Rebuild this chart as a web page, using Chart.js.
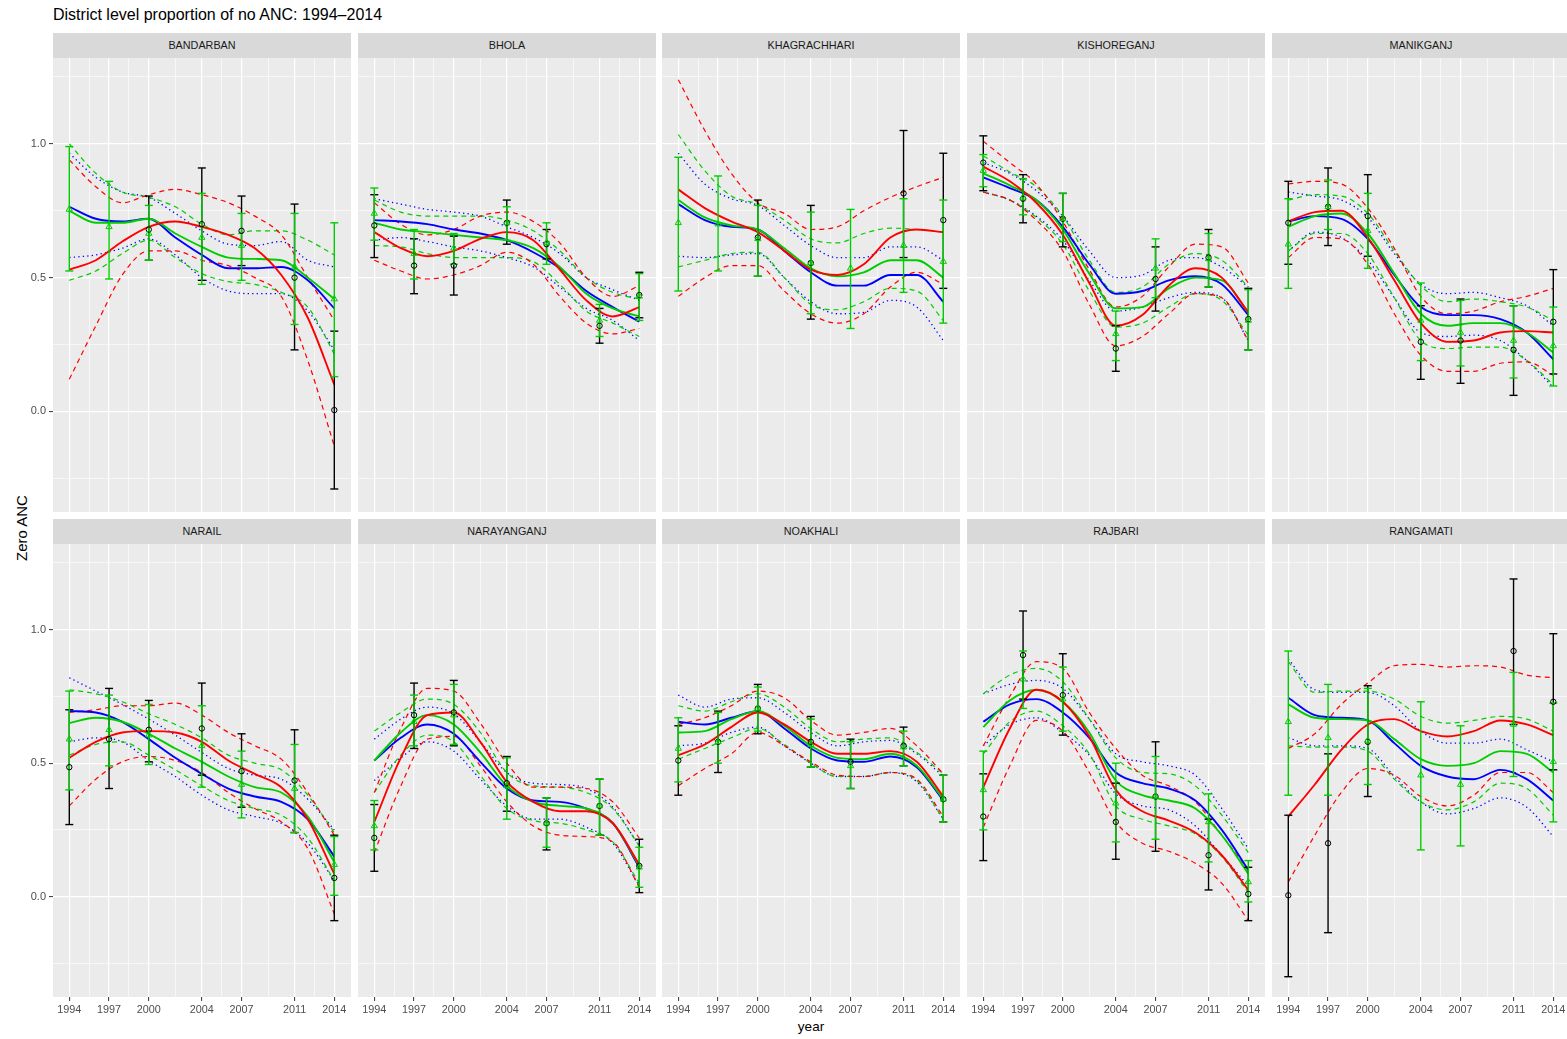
<!DOCTYPE html>
<html>
<head>
<meta charset="utf-8">
<script src="https://cdn.jsdelivr.net/npm/chart.js@4.4.0/dist/chart.umd.min.js"></script>
<style>
  body { margin: 0; background: #fff; width: 1567px; height: 1039px; overflow: hidden; position: relative;
         font-family: "Liberation Sans", Arial, sans-serif; }
  .title { position: absolute; left: 53px; top: 7px; font-size: 16px; line-height: 1; color: #000; white-space: nowrap; }
  .strip { position: absolute; height: 25px; line-height: 25px; background: #D9D9D9; color: #1A1A1A;
           font-size: 10.8px; text-align: center; }
  .xlab { position: absolute; left: 811px; top: 1020px; font-size: 13.5px; line-height: 1; transform: translateX(-50%); }
  .ylab { position: absolute; left: 21px; top: 527.5px; font-size: 15px; line-height: 1; white-space: nowrap;
          transform: translate(-50%, -50%) rotate(-90deg); }
  canvas { position: absolute; }
</style>
</head>
<body>
<div class="title">District level proportion of no ANC: 1994–2014</div>
<div class="xlab">year</div>
<div class="ylab">Zero ANC</div>
<script>
// facets, in reading order
const districts = ['BANDARBAN', 'BHOLA', 'KHAGRACHHARI', 'KISHOREGANJ', 'MANIKGANJ',
                   'NARAIL', 'NARAYANGANJ', 'NOAKHALI', 'RAJBARI', 'RANGAMATI'];

// years where the fitted curves were read, and survey years of the observed points
const fitYears = [1994, 1996, 1998, 2000, 2002, 2004, 2006, 2008, 2010, 2012, 2014];
const surveyYears = [1994, 1997, 2000, 2004, 2007, 2011, 2014];

// axis breaks
const yearBreaks = [1994, 1997, 2000, 2004, 2007, 2011, 2014];
const yearMinor = [1995.5, 1998.5, 2002, 2005.5, 2009, 2012.5];
const valueBreaks = [0, 0.5, 1];
const valueMinor = [-0.25, 0.25, 0.75, 1.25];

// red model: fit and dashed band
const redFit = [
  [0.53, 0.565, 0.635, 0.69, 0.71, 0.69, 0.66, 0.61, 0.51, 0.35, 0.10],
  [0.67, 0.61, 0.58, 0.60, 0.645, 0.67, 0.64, 0.53, 0.415, 0.355, 0.39],
  [0.83, 0.76, 0.71, 0.67, 0.60, 0.53, 0.51, 0.55, 0.65, 0.68, 0.67],
  [0.915, 0.86, 0.78, 0.66, 0.48, 0.32, 0.36, 0.47, 0.535, 0.50, 0.37],
  [0.71, 0.745, 0.75, 0.65, 0.49, 0.33, 0.26, 0.265, 0.295, 0.30, 0.295],
  [0.52, 0.58, 0.615, 0.62, 0.615, 0.58, 0.51, 0.46, 0.41, 0.29, 0.085],
  [0.28, 0.52, 0.68, 0.69, 0.58, 0.43, 0.355, 0.32, 0.32, 0.275, 0.12],
  [0.53, 0.57, 0.635, 0.69, 0.645, 0.58, 0.535, 0.535, 0.545, 0.505, 0.375],
  [0.41, 0.63, 0.775, 0.73, 0.60, 0.40, 0.32, 0.285, 0.24, 0.155, 0.025],
  [0.30, 0.42, 0.55, 0.645, 0.665, 0.62, 0.60, 0.62, 0.66, 0.645, 0.605]
];
const redUpper = [
  [0.94, 0.84, 0.78, 0.81, 0.83, 0.81, 0.78, 0.73, 0.66, 0.50, 0.34],
  [0.78, 0.70, 0.66, 0.68, 0.73, 0.745, 0.71, 0.63, 0.50, 0.43, 0.47],
  [1.24, 1.05, 0.89, 0.78, 0.74, 0.68, 0.69, 0.75, 0.80, 0.84, 0.875],
  [1.01, 0.93, 0.85, 0.71, 0.53, 0.39, 0.43, 0.54, 0.625, 0.615, 0.48],
  [0.85, 0.86, 0.85, 0.76, 0.61, 0.43, 0.365, 0.375, 0.41, 0.43, 0.46],
  [0.69, 0.70, 0.715, 0.715, 0.725, 0.68, 0.615, 0.565, 0.515, 0.39, 0.23],
  [0.39, 0.63, 0.78, 0.77, 0.65, 0.50, 0.41, 0.41, 0.405, 0.355, 0.22],
  [0.645, 0.67, 0.715, 0.77, 0.745, 0.66, 0.605, 0.615, 0.63, 0.565, 0.46],
  [0.565, 0.75, 0.88, 0.855, 0.69, 0.555, 0.455, 0.415, 0.355, 0.23, 0.10],
  [0.555, 0.61, 0.72, 0.80, 0.865, 0.87, 0.86, 0.865, 0.86, 0.83, 0.82]
];
const redLower = [
  [0.12, 0.32, 0.51, 0.60, 0.60, 0.565, 0.545, 0.50, 0.43, 0.19, -0.13],
  [0.565, 0.525, 0.495, 0.51, 0.545, 0.595, 0.55, 0.43, 0.33, 0.29, 0.31],
  [0.43, 0.50, 0.545, 0.545, 0.45, 0.365, 0.33, 0.365, 0.465, 0.52, 0.475],
  [0.82, 0.79, 0.715, 0.60, 0.40, 0.245, 0.28, 0.365, 0.44, 0.425, 0.265],
  [0.575, 0.65, 0.645, 0.55, 0.365, 0.21, 0.15, 0.15, 0.18, 0.185, 0.135],
  [0.34, 0.44, 0.505, 0.525, 0.51, 0.465, 0.39, 0.33, 0.28, 0.18, -0.065],
  [0.165, 0.415, 0.59, 0.60, 0.49, 0.355, 0.265, 0.23, 0.225, 0.205, 0.035],
  [0.415, 0.48, 0.535, 0.615, 0.565, 0.505, 0.455, 0.45, 0.465, 0.44, 0.30],
  [0.26, 0.49, 0.66, 0.62, 0.465, 0.28, 0.20, 0.17, 0.125, 0.05, -0.09],
  [0.055, 0.23, 0.39, 0.48, 0.455, 0.375, 0.34, 0.38, 0.465, 0.465, 0.39]
];

// green model
const greenFit = [
  [0.75, 0.705, 0.705, 0.72, 0.665, 0.615, 0.575, 0.57, 0.565, 0.50, 0.42],
  [0.705, 0.68, 0.67, 0.66, 0.65, 0.64, 0.61, 0.54, 0.44, 0.385, 0.355],
  [0.79, 0.725, 0.695, 0.68, 0.61, 0.535, 0.505, 0.52, 0.565, 0.565, 0.50],
  [0.89, 0.845, 0.79, 0.68, 0.515, 0.385, 0.39, 0.46, 0.50, 0.49, 0.37],
  [0.69, 0.73, 0.74, 0.665, 0.515, 0.365, 0.32, 0.33, 0.33, 0.295, 0.22],
  [0.65, 0.67, 0.655, 0.61, 0.555, 0.505, 0.45, 0.41, 0.39, 0.30, 0.13],
  [0.51, 0.615, 0.68, 0.645, 0.54, 0.415, 0.355, 0.34, 0.33, 0.275, 0.115],
  [0.615, 0.62, 0.665, 0.695, 0.64, 0.565, 0.52, 0.515, 0.535, 0.49, 0.365],
  [0.635, 0.735, 0.775, 0.73, 0.615, 0.435, 0.38, 0.36, 0.33, 0.23, 0.085],
  [0.72, 0.67, 0.665, 0.66, 0.59, 0.515, 0.49, 0.50, 0.545, 0.535, 0.465]
];
const greenUpper = [
  [1.0, 0.89, 0.82, 0.80, 0.765, 0.70, 0.66, 0.675, 0.675, 0.64, 0.585],
  [0.79, 0.745, 0.73, 0.73, 0.73, 0.715, 0.675, 0.60, 0.50, 0.445, 0.42],
  [1.035, 0.90, 0.805, 0.775, 0.715, 0.645, 0.63, 0.665, 0.685, 0.68, 0.67],
  [0.955, 0.895, 0.84, 0.73, 0.565, 0.445, 0.465, 0.55, 0.59, 0.565, 0.465],
  [0.79, 0.81, 0.805, 0.74, 0.60, 0.47, 0.41, 0.42, 0.41, 0.39, 0.34],
  [0.775, 0.76, 0.73, 0.685, 0.645, 0.595, 0.53, 0.50, 0.475, 0.38, 0.24],
  [0.62, 0.69, 0.74, 0.72, 0.615, 0.465, 0.415, 0.41, 0.39, 0.33, 0.19],
  [0.715, 0.695, 0.73, 0.76, 0.71, 0.63, 0.58, 0.59, 0.595, 0.54, 0.46],
  [0.76, 0.83, 0.855, 0.805, 0.665, 0.52, 0.465, 0.46, 0.415, 0.305, 0.165],
  [0.88, 0.765, 0.77, 0.77, 0.74, 0.675, 0.65, 0.66, 0.675, 0.665, 0.62]
];
const greenLower = [
  [0.49, 0.525, 0.59, 0.64, 0.575, 0.515, 0.485, 0.475, 0.445, 0.39, 0.215],
  [0.62, 0.615, 0.59, 0.575, 0.575, 0.575, 0.56, 0.475, 0.375, 0.33, 0.28],
  [0.54, 0.565, 0.59, 0.595, 0.50, 0.40, 0.38, 0.41, 0.46, 0.45, 0.34],
  [0.82, 0.79, 0.725, 0.625, 0.45, 0.315, 0.33, 0.39, 0.44, 0.415, 0.285],
  [0.60, 0.665, 0.665, 0.59, 0.425, 0.265, 0.235, 0.24, 0.24, 0.19, 0.10],
  [0.53, 0.57, 0.58, 0.53, 0.475, 0.415, 0.36, 0.33, 0.305, 0.22, 0.06],
  [0.39, 0.53, 0.605, 0.58, 0.455, 0.33, 0.285, 0.275, 0.25, 0.205, 0.05],
  [0.515, 0.555, 0.595, 0.63, 0.57, 0.50, 0.45, 0.45, 0.465, 0.435, 0.29],
  [0.535, 0.655, 0.695, 0.64, 0.535, 0.34, 0.29, 0.265, 0.235, 0.15, 0.015],
  [0.565, 0.56, 0.56, 0.545, 0.44, 0.355, 0.325, 0.355, 0.425, 0.405, 0.305]
];

// blue model: fit and dotted band
const blueFit = [
  [0.765, 0.72, 0.71, 0.72, 0.65, 0.585, 0.535, 0.535, 0.54, 0.49, 0.385],
  [0.715, 0.71, 0.70, 0.68, 0.665, 0.64, 0.595, 0.535, 0.45, 0.39, 0.335],
  [0.775, 0.715, 0.69, 0.68, 0.60, 0.52, 0.47, 0.47, 0.51, 0.51, 0.41],
  [0.875, 0.835, 0.79, 0.69, 0.55, 0.44, 0.45, 0.49, 0.505, 0.475, 0.36],
  [0.71, 0.73, 0.72, 0.645, 0.51, 0.39, 0.36, 0.36, 0.345, 0.295, 0.195],
  [0.695, 0.69, 0.655, 0.59, 0.52, 0.46, 0.405, 0.375, 0.355, 0.29, 0.15],
  [0.51, 0.595, 0.645, 0.61, 0.505, 0.405, 0.36, 0.355, 0.33, 0.275, 0.11],
  [0.655, 0.645, 0.67, 0.695, 0.63, 0.555, 0.51, 0.505, 0.525, 0.485, 0.36],
  [0.655, 0.72, 0.74, 0.69, 0.595, 0.465, 0.425, 0.405, 0.36, 0.25, 0.10],
  [0.745, 0.68, 0.67, 0.66, 0.575, 0.49, 0.45, 0.44, 0.475, 0.44, 0.36]
];
const blueUpper = [
  [0.965, 0.875, 0.82, 0.80, 0.74, 0.675, 0.625, 0.62, 0.635, 0.565, 0.54],
  [0.795, 0.775, 0.755, 0.745, 0.73, 0.69, 0.65, 0.59, 0.50, 0.455, 0.415],
  [0.965, 0.85, 0.795, 0.77, 0.695, 0.62, 0.575, 0.575, 0.615, 0.615, 0.565],
  [0.93, 0.89, 0.825, 0.73, 0.60, 0.50, 0.51, 0.565, 0.575, 0.54, 0.465],
  [0.82, 0.805, 0.79, 0.725, 0.59, 0.475, 0.44, 0.445, 0.425, 0.395, 0.32],
  [0.82, 0.77, 0.72, 0.665, 0.605, 0.54, 0.48, 0.455, 0.44, 0.365, 0.25],
  [0.59, 0.665, 0.71, 0.685, 0.58, 0.465, 0.425, 0.42, 0.405, 0.335, 0.19],
  [0.755, 0.71, 0.74, 0.745, 0.69, 0.615, 0.565, 0.58, 0.585, 0.535, 0.45],
  [0.76, 0.795, 0.81, 0.78, 0.665, 0.535, 0.505, 0.49, 0.455, 0.33, 0.18],
  [0.89, 0.775, 0.765, 0.765, 0.715, 0.62, 0.575, 0.575, 0.59, 0.55, 0.505]
];
const blueLower = [
  [0.575, 0.585, 0.61, 0.645, 0.585, 0.50, 0.45, 0.44, 0.44, 0.375, 0.23],
  [0.64, 0.65, 0.635, 0.615, 0.60, 0.575, 0.54, 0.465, 0.385, 0.34, 0.265],
  [0.58, 0.575, 0.585, 0.59, 0.50, 0.41, 0.365, 0.37, 0.415, 0.39, 0.265],
  [0.82, 0.79, 0.73, 0.64, 0.49, 0.375, 0.39, 0.425, 0.445, 0.425, 0.265],
  [0.60, 0.67, 0.65, 0.565, 0.425, 0.295, 0.28, 0.285, 0.265, 0.19, 0.09],
  [0.58, 0.595, 0.58, 0.51, 0.45, 0.38, 0.325, 0.30, 0.275, 0.20, 0.06],
  [0.435, 0.52, 0.58, 0.545, 0.44, 0.34, 0.29, 0.29, 0.26, 0.20, 0.04],
  [0.565, 0.575, 0.615, 0.635, 0.565, 0.50, 0.45, 0.45, 0.465, 0.43, 0.29],
  [0.565, 0.645, 0.67, 0.615, 0.53, 0.385, 0.34, 0.325, 0.265, 0.155, 0.04],
  [0.595, 0.565, 0.565, 0.555, 0.45, 0.355, 0.31, 0.33, 0.37, 0.335, 0.225]
];

// observed points (black circles) with their intervals; null = no survey estimate
const blackObs = [
  [null, null, 0.68, 0.70, 0.675, 0.50, 0.005],
  [0.695, 0.545, 0.545, 0.705, 0.625, 0.32, 0.435],
  [null, null, 0.65, 0.555, null, 0.815, 0.715],
  [0.93, 0.795, 0.72, 0.235, 0.495, 0.575, 0.345],
  [0.705, 0.765, 0.73, 0.26, 0.265, 0.23, 0.335],
  [0.485, 0.59, 0.625, 0.63, 0.47, 0.435, 0.07],
  [0.22, 0.68, 0.69, 0.425, 0.275, 0.34, 0.115],
  [0.51, 0.58, 0.705, 0.58, 0.505, 0.565, 0.365],
  [0.30, 0.905, 0.755, 0.28, 0.375, 0.155, 0.01],
  [0.005, 0.20, 0.58, null, null, 0.92, 0.73]
];
const blackLow = [
  [null, null, 0.565, 0.49, 0.545, 0.23, -0.29],
  [0.575, 0.44, 0.435, 0.625, 0.57, 0.255, 0.35],
  [null, null, 0.505, 0.345, null, 0.575, 0.46],
  [0.825, 0.705, 0.615, 0.15, 0.375, 0.465, 0.23],
  [0.55, 0.62, 0.58, 0.12, 0.105, 0.06, 0.14],
  [0.27, 0.405, 0.505, 0.455, 0.335, 0.24, -0.09],
  [0.095, 0.555, 0.565, 0.32, 0.175, 0.23, 0.015],
  [0.38, 0.465, 0.61, 0.485, 0.405, 0.49, 0.28],
  [0.135, 0.74, 0.605, 0.14, 0.17, 0.025, -0.09],
  [-0.30, -0.135, 0.375, null, null, 0.645, 0.475]
];
const blackHigh = [
  [null, null, 0.805, 0.91, 0.805, 0.775, 0.30],
  [0.81, 0.645, 0.655, 0.79, 0.68, 0.385, 0.52],
  [null, null, 0.79, 0.77, null, 1.05, 0.965],
  [1.03, 0.885, 0.815, 0.32, 0.615, 0.68, 0.46],
  [0.86, 0.91, 0.885, 0.395, 0.42, 0.395, 0.53],
  [0.70, 0.78, 0.735, 0.80, 0.61, 0.625, 0.23],
  [0.345, 0.80, 0.81, 0.525, 0.37, 0.44, 0.215],
  [0.64, 0.695, 0.795, 0.675, 0.59, 0.635, 0.455],
  [0.46, 1.07, 0.91, 0.425, 0.58, 0.29, 0.11],
  [0.305, 0.535, 0.79, null, null, 1.19, 0.985]
];

// observed points (green triangles) with their intervals
const greenObs = [
  [0.755, 0.69, 0.665, 0.65, 0.62, 0.54, 0.42],
  [0.74, 0.59, 0.61, 0.705, 0.63, 0.34, 0.43],
  [0.705, 0.70, 0.645, 0.555, 0.535, 0.62, 0.56],
  [0.90, 0.80, 0.72, 0.29, 0.535, 0.57, 0.34],
  [0.625, 0.765, 0.675, 0.34, 0.295, 0.265, 0.245],
  [0.59, 0.625, 0.605, 0.565, 0.42, 0.405, 0.12],
  [0.265, 0.655, 0.68, 0.415, 0.275, 0.34, 0.11],
  [0.555, 0.58, 0.705, 0.57, 0.49, 0.56, 0.365],
  [0.40, 0.815, 0.74, 0.35, 0.375, 0.28, 0.055],
  [0.655, 0.595, 0.585, 0.455, 0.42, 0.645, 0.505]
];
const greenLow = [
  [0.525, 0.495, 0.565, 0.475, 0.49, 0.325, 0.13],
  [0.64, 0.495, 0.55, 0.64, 0.55, 0.28, 0.34],
  [0.45, 0.525, 0.505, 0.365, 0.31, 0.445, 0.33],
  [0.84, 0.735, 0.635, 0.19, 0.425, 0.465, 0.23],
  [0.46, 0.68, 0.535, 0.19, 0.17, 0.125, 0.095],
  [0.40, 0.49, 0.495, 0.41, 0.295, 0.24, 0.005],
  [0.175, 0.565, 0.57, 0.29, 0.185, 0.23, 0.035],
  [0.43, 0.50, 0.62, 0.485, 0.405, 0.49, 0.28],
  [0.25, 0.705, 0.62, 0.205, 0.215, 0.13, -0.02],
  [0.38, 0.38, 0.42, 0.175, 0.19, 0.45, 0.28]
];
const greenHigh = [
  [0.99, 0.86, 0.77, 0.815, 0.74, 0.74, 0.705],
  [0.835, 0.68, 0.665, 0.765, 0.705, 0.40, 0.515],
  [0.95, 0.88, 0.77, 0.745, 0.755, 0.795, 0.79],
  [0.96, 0.87, 0.815, 0.375, 0.645, 0.665, 0.455],
  [0.795, 0.865, 0.815, 0.48, 0.415, 0.395, 0.39],
  [0.77, 0.755, 0.72, 0.715, 0.545, 0.57, 0.225],
  [0.36, 0.755, 0.795, 0.52, 0.37, 0.44, 0.185],
  [0.67, 0.69, 0.785, 0.665, 0.58, 0.62, 0.455],
  [0.545, 0.92, 0.86, 0.50, 0.525, 0.385, 0.135],
  [0.92, 0.795, 0.78, 0.73, 0.64, 0.84, 0.725]
];

// ---- layout ----
const RED = '#FF0000', GREEN = '#00CD00', BLUE = '#0000FF';
const X_MIN = 1992.77, X_MAX = 2015.26, Y_MIN = -0.376, Y_MAX = 1.321;
const PANEL_W = 298;
const panelLeft = [53, 358, 662, 967, 1272];
const panelTop = [58, 544];
const panelH = [454, 453];
const stripTop = [33, 519];
const Y_AXIS_W = 53, X_AXIS_H = 25;

Chart.defaults.font.family = '"Liberation Sans", Arial, sans-serif';

// grey panel background, drawn under the grid
const panelBg = {
  id: 'panelBg',
  beforeDraw(chart) {
    const { ctx, chartArea: a } = chart;
    ctx.save();
    ctx.fillStyle = '#EBEBEB';
    ctx.fillRect(a.left, a.top, a.right - a.left, a.bottom - a.top);
    ctx.restore();
  }
};

function curve(values, color, width, dash) {
  return {
    data: fitYears.map((x, i) => ({ x, y: values[i] })),
    borderColor: color, borderWidth: width, borderDash: dash || [],
    pointRadius: 0, cubicInterpolationMode: 'monotone', fill: false
  };
}

// vertical error bars with caps, one segment per survey year, split by nulls
function errorBars(lo, hi, color) {
  const data = [];
  surveyYears.forEach((x, i) => {
    if (lo[i] == null) return;
    data.push({ x, y: lo[i] }, { x, y: hi[i] }, { x, y: null });
  });
  return {
    data, borderColor: color, borderWidth: 1.4, spanGaps: false,
    pointStyle: 'line', pointRadius: 4, pointBorderWidth: 1.4,
    pointBorderColor: color, pointBackgroundColor: color
  };
}

function points(obs, color, style, radius) {
  return {
    data: surveyYears.map((x, i) => ({ x, y: obs[i] })).filter(p => p.y != null),
    showLine: false, pointStyle: style, pointRadius: radius,
    pointBorderColor: color, pointBackgroundColor: 'rgba(0,0,0,0)', pointBorderWidth: 1
  };
}

const isMajorX = v => yearBreaks.includes(v);
const isMajorY = v => valueBreaks.includes(v);

districts.forEach((name, i) => {
  const row = Math.floor(i / 5), col = i % 5;
  const showY = col === 0, showX = row === 1;

  const strip = document.createElement('div');
  strip.className = 'strip';
  strip.textContent = name;
  strip.style.left = panelLeft[col] + 'px';
  strip.style.top = stripTop[row] + 'px';
  strip.style.width = PANEL_W + 'px';
  document.body.appendChild(strip);

  const canvas = document.createElement('canvas');
  const cw = PANEL_W + (showY ? Y_AXIS_W : 0);
  const ch = panelH[row] + (showX ? X_AXIS_H : 0);
  canvas.width = cw; canvas.height = ch;
  canvas.style.width = cw + 'px'; canvas.style.height = ch + 'px';
  canvas.style.left = (panelLeft[col] - (showY ? Y_AXIS_W : 0)) + 'px';
  canvas.style.top = panelTop[row] + 'px';
  document.body.appendChild(canvas);

  new Chart(canvas, {
    type: 'line',
    data: {
      datasets: [
        points(greenObs[i], GREEN, 'triangle', 3.6),
        points(blackObs[i], '#000000', 'circle', 2.7),
        errorBars(greenLow[i], greenHigh[i], GREEN),
        errorBars(blackLow[i], blackHigh[i], '#000000'),
        curve(redFit[i], RED, 1.9),
        curve(greenFit[i], GREEN, 1.9),
        curve(blueFit[i], BLUE, 1.9),
        curve(redUpper[i], RED, 1.2, [5, 4]),
        curve(redLower[i], RED, 1.2, [5, 4]),
        curve(greenUpper[i], GREEN, 1.2, [5, 4]),
        curve(greenLower[i], GREEN, 1.2, [5, 4]),
        curve(blueUpper[i], BLUE, 1.3, [1.3, 3.2]),
        curve(blueLower[i], BLUE, 1.3, [1.3, 3.2])
      ]
    },
    options: {
      responsive: false,
      animation: false,
      devicePixelRatio: 1,
      events: [],
      layout: { padding: 0, autoPadding: false },
      plugins: { legend: { display: false }, tooltip: { enabled: false } },
      scales: {
        x: {
          type: 'linear', min: X_MIN, max: X_MAX,
          afterBuildTicks: s => { s.ticks = [...yearBreaks, ...yearMinor].sort((a, b) => a - b).map(v => ({ value: v })); },
          afterFit: s => {
            s.height = showX ? X_AXIS_H : 0;
            s.paddingLeft = 0; s.paddingRight = 0; s.paddingTop = 0; s.paddingBottom = 0;
          },
          border: { display: false },
          grid: {
            color: '#FFFFFF',
            lineWidth: c => (c.tick && isMajorX(c.tick.value)) ? 1.2 : 0.6,
            drawTicks: showX, tickLength: 4, tickWidth: 1,
            tickColor: c => (c.tick && isMajorX(c.tick.value)) ? '#333333' : 'rgba(0,0,0,0)'
          },
          ticks: {
            display: showX, autoSkip: false, maxRotation: 0, padding: 3,
            color: '#4D4D4D', font: { size: 10.8 },
            callback: v => isMajorX(v) ? String(v) : ''
          }
        },
        y: {
          type: 'linear', min: Y_MIN, max: Y_MAX,
          afterBuildTicks: s => { s.ticks = [...valueMinor, ...valueBreaks].sort((a, b) => a - b).map(v => ({ value: v })); },
          afterFit: s => {
            s.width = showY ? Y_AXIS_W : 0;
            s.paddingLeft = 0; s.paddingRight = 0; s.paddingTop = 0; s.paddingBottom = 0;
          },
          border: { display: false },
          grid: {
            color: '#FFFFFF',
            lineWidth: c => (c.tick && isMajorY(c.tick.value)) ? 1.2 : 0.6,
            drawTicks: showY, tickLength: 4, tickWidth: 1,
            tickColor: c => (c.tick && isMajorY(c.tick.value)) ? '#333333' : 'rgba(0,0,0,0)'
          },
          ticks: {
            display: showY, autoSkip: false, padding: 3,
            color: '#4D4D4D', font: { size: 11 },
            callback: v => isMajorY(v) ? v.toFixed(1) : ''
          }
        }
      }
    },
    plugins: [panelBg]
  });
});
</script>
</body>
</html>
